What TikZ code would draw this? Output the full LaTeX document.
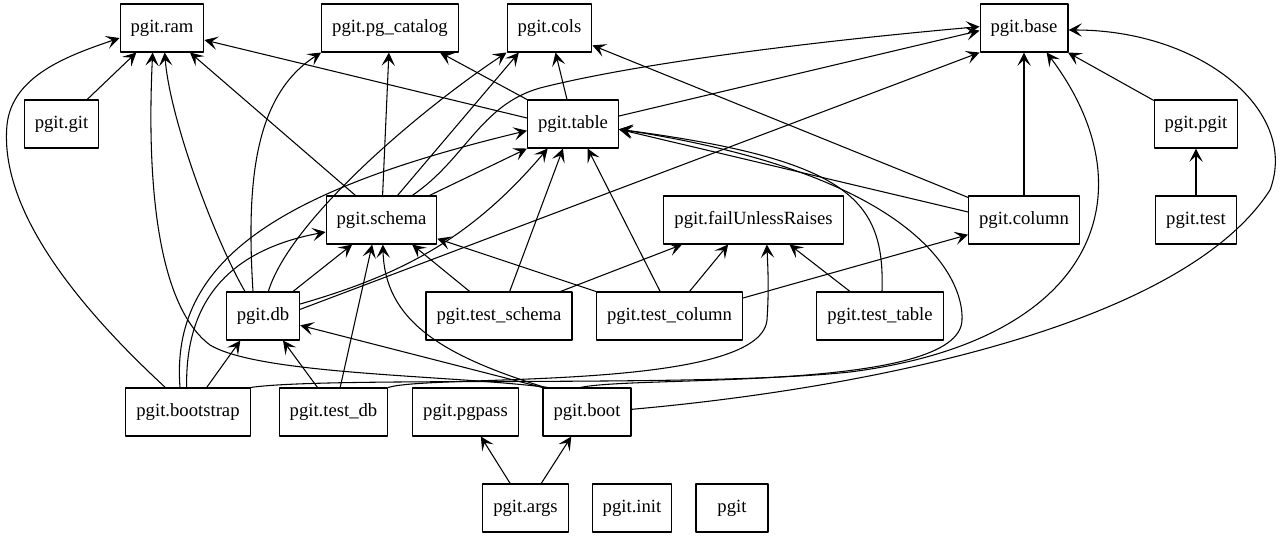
\documentclass[tikz,border=0pt]{standalone}
\usepackage{fontspec}
\setmainfont{Liberation Serif}
\usetikzlibrary{arrows.meta}
\tikzset{
  mod/.style={draw,line width=.8pt,minimum width=54pt,minimum height=36pt,
    inner xsep=7.9pt,font=\fontsize{14}{16}\selectfont},
  dep/.style={->,line width=.8pt}
}
\begin{document}
\begin{tikzpicture}[x=.75pt,y=-.75pt,>={Stealth[length=10pt,width=10pt,inset=4.5pt]},line cap=round,line join=round]
  \useasboundingbox (0,0) rectangle (1283,539);
  \node[mod] (ram) at (162,28) {pgit.ram};
  \node[mod] (pgcatalog) at (390,28) {pgit.pg\_catalog};
  \node[mod] (cols) at (549.5,28) {pgit.cols};
  \node[mod] (base) at (1024,28) {pgit.base};
  \node[mod] (git) at (61.5,124) {pgit.git};
  \node[mod] (table) at (573,124) {pgit.table};
  \node[mod] (pgitmod) at (1196,124) {pgit.pgit};
  \node[mod] (schema) at (381.5,220) {pgit.schema};
  \node[mod] (fail) at (753.5,220) {pgit.failUnlessRaises};
  \node[mod] (column) at (1024,220) {pgit.column};
  \node[mod] (test) at (1196,220) {pgit.test};
  \node[mod] (db) at (263,316) {pgit.db};
  \node[mod] (tschema) at (499,316) {pgit.test\_schema};
  \node[mod] (tcolumn) at (669.5,316) {pgit.test\_column};
  \node[mod] (ttable) at (880,316) {pgit.test\_table};
  \node[mod] (bootstrap) at (188,412) {pgit.bootstrap};
  \node[mod] (testdb) at (333.5,412) {pgit.test\_db};
  \node[mod] (pgpass) at (465.5,412) {pgit.pgpass};
  \node[mod] (boot) at (587,412) {pgit.boot};
  \node[mod] (args) at (525.5,508) {pgit.args};
  \node[mod] (init) at (632,508) {pgit.init};
  \node[mod] (pgit) at (732,508) {pgit};
  % ram
  \draw[dep] (git) -- (ram);
  \draw[dep] ([xshift=-17pt]bootstrap.north) .. controls (60,290) and (0,200) .. (7,125)
    .. controls (12,75) and (70,55) .. ([yshift=-7.5pt]ram.west);
  \draw[dep] ([xshift=4pt]boot.north west) .. controls (450,375) and (260,375) .. (210,345)
    .. controls (150,300) and (148,150) .. ([xshift=-7pt]ram.south);
  \draw[dep] ([xshift=-13.5pt]db.north) .. controls (215,240) and (170,120) .. ([xshift=2pt]ram.south);
  \draw[dep] ([xshift=-19.5pt]schema.north) -- ([xshift=21pt]ram.south);
  \draw[dep] ([yshift=4.5pt]table.west) -- ([yshift=-9pt]ram.east);
  % pg_catalog, cols
  \draw[dep] ([xshift=-7.5pt]db.north) .. controls (246,180) and (255,95) .. (pgcatalog.south west);
  \draw[dep] (schema) -- (pgcatalog);
  \draw[dep] (table.north west) -- ([xshift=37.5pt]pgcatalog.south);
  \draw[dep] ([xshift=4pt]db.north) .. controls (290,220) and (420,110) .. (cols.south west);
  \draw[dep] ([xshift=12pt]schema.north) -- ([xshift=-23pt]cols.south);
  \draw[dep] (table) -- (cols);
  \draw[dep] (column) -- (cols);
  % base
  \draw[dep] ([yshift=6pt]table.east) -- ([yshift=-2pt]base.west);
  \draw[dep] ([xshift=23pt]schema.north) .. controls (465,160) and (480,105) .. (540,88)
    .. controls (650,60) and (850,38) .. ([yshift=1pt]base.west);
  \draw[dep] ([yshift=5pt]db.east) -- (base.south west);
  \draw[dep] (column) -- (base);
  \draw[dep] (pgitmod) -- (base);
  \draw[dep] (test) -- (pgitmod);
  \draw[dep] (bootstrap.north east) .. controls (330,376) and (700,388) .. (850,372)
    .. controls (1100,340) and (1150,190) .. ([xshift=17pt]base.south);
  \draw[dep] ([yshift=2pt]boot.east) .. controls (850,390) and (1180,330) .. (1270,190)
    .. controls (1300,110) and (1200,30) .. ([yshift=-1.5pt]base.east);
  % table
  \draw[dep] ([xshift=-6pt]bootstrap.north) .. controls (170,260) and (280,190) .. ([yshift=-5pt]table.west);
  \draw[dep] ([xshift=36pt]schema.north) -- (table.south west);
  \draw[dep] ([yshift=9pt]db.east) .. controls (400,275) and (470,240) .. ([xshift=-19pt]table.south);
  \draw[dep] ([xshift=8pt]tschema.north) -- ([xshift=-7.5pt]table.south);
  \draw[dep] ([xshift=-7pt]tcolumn.north) -- ([xshift=11pt]table.south);
  \draw[dep] ([yshift=6pt]column.west) -- ([yshift=-4pt]table.east);
  \draw[dep] ([xshift=1.5pt]ttable.north) .. controls (885,200) and (850,160) .. ([yshift=-4pt]table.east);
  \draw[dep] ([xshift=-5pt]boot.north) .. controls (640,375) and (960,392) .. (962,320)
    .. controls (964,280) and (920,175) .. ([yshift=-4pt]table.east);
  % schema
  \draw[dep] ([xshift=-1pt]bootstrap.north) .. controls (185,300) and (230,250) .. ([yshift=-9pt]schema.west);
  \draw[dep] ([xshift=22.5pt]db.north) -- ([xshift=-22pt]schema.south);
  \draw[dep] ([xshift=5pt]testdb.north) -- ([xshift=-7pt]schema.south);
  \draw[dep] ([xshift=2pt]boot.north west) .. controls (440,355) and (385,320) .. ([xshift=1pt]schema.south);
  \draw[dep] ([xshift=-22pt]tschema.north) -- ([xshift=23pt]schema.south);
  \draw[dep] (tcolumn.north west) -- ([yshift=-14pt]schema.east);
  % db
  \draw[dep] ([xshift=14pt]bootstrap.north) -- ([xshift=-17pt]db.south);
  \draw[dep] ([xshift=-12pt]testdb.north) -- ([xshift=15pt]db.south);
  \draw[dep] (boot.north west) -- ([yshift=-7pt]db.east);
  % failUnlessRaises, column
  \draw[dep] ([xshift=-9pt]tschema.north east) -- ([xshift=14pt]fail.south west);
  \draw[dep] ([xshift=15pt]tcolumn.north) -- ([xshift=-19pt]fail.south);
  \draw[dep] (testdb.north east) .. controls (430,374) and (760,392) .. (767,320)
    .. controls (769,290) and (768,270) .. ([xshift=10pt]fail.south);
  \draw[dep] ([xshift=-22.5pt]ttable.north) -- ([xshift=27pt]fail.south);
  \draw[dep] ([yshift=13.5pt]tcolumn.east) -- ([yshift=-11pt]column.west);
  % args
  \draw[dep] (args) -- (pgpass);
  \draw[dep] (args) -- (boot);
\end{tikzpicture}
\end{document}
